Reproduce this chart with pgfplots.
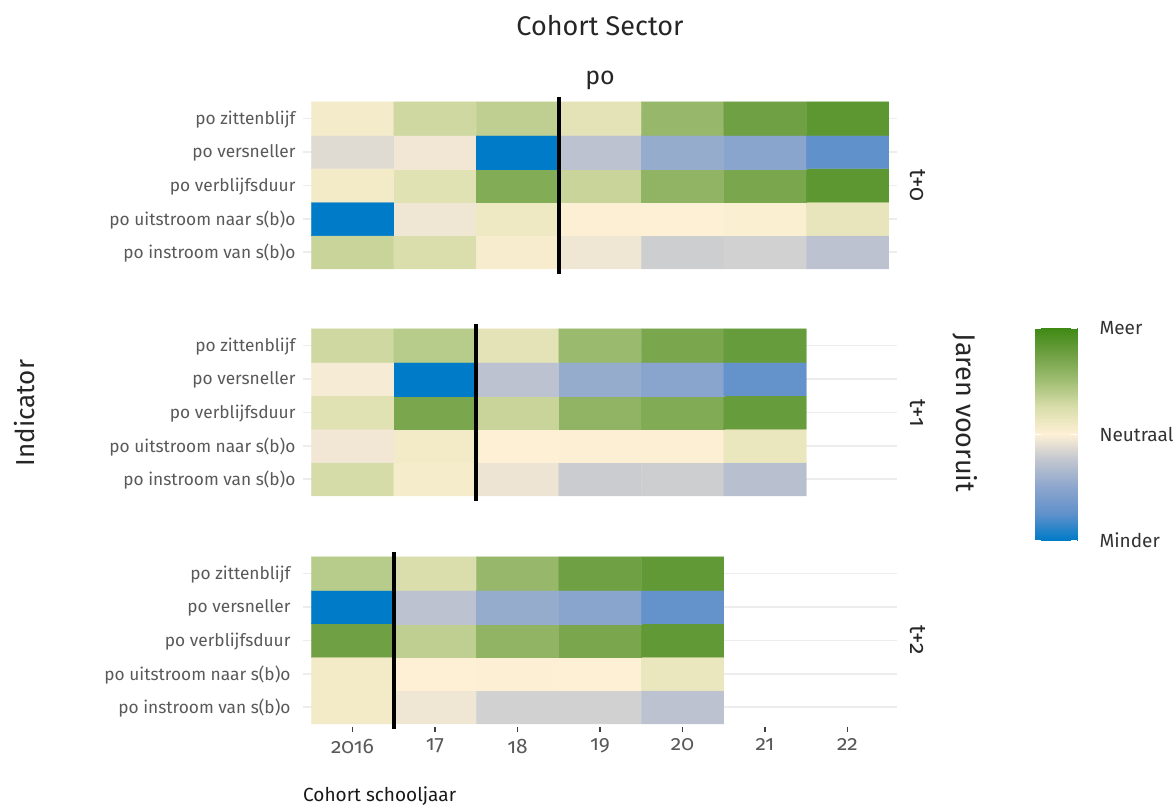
\documentclass[border=0pt]{standalone}
\usepackage{pgfplots}
\pgfplotsset{compat=1.18}
\usepackage{pgfplotstable}
\usepackage{fontspec}
\setmainfont[Numbers=OldStyle]{Fira Sans}

\pgfplotstableread{
x y c
2016 1 0.33
2017 1 0.25
2018 1 0.05
2019 1 -0.06
2020 1 -0.20
2021 1 -0.18
2022 1 -0.27
2016 2 -1
2017 2 -0.06
2018 2 0.11
2019 2 0.01
2020 2 0.00
2021 2 0.02
2022 2 0.15
2016 3 0.08
2017 3 0.20
2018 3 0.65
2019 3 0.33
2020 3 0.58
2021 3 0.70
2022 3 0.85
2016 4 -0.12
2017 4 -0.05
2018 4 -1
2019 4 -0.27
2020 4 -0.45
2021 4 -0.52
2022 4 -0.75
2016 5 0.07
2017 5 0.30
2018 5 0.37
2019 5 0.18
2020 5 0.55
2021 5 0.75
2022 5 0.85
}\panelA

\pgfplotstableread{
x y c
2016 1 0.27
2017 1 0.06
2018 1 -0.07
2019 1 -0.21
2020 1 -0.20
2021 1 -0.29
2016 2 -0.05
2017 2 0.08
2018 2 0.00
2019 2 0.01
2020 2 0.01
2021 2 0.14
2016 3 0.20
2017 3 0.70
2018 3 0.33
2019 3 0.58
2020 3 0.66
2021 3 0.80
2016 4 -0.03
2017 4 -1
2018 4 -0.27
2019 4 -0.45
2020 4 -0.52
2021 4 -0.73
2016 5 0.30
2017 5 0.40
2018 5 0.18
2019 5 0.53
2020 5 0.70
2021 5 0.80
}\panelB

\pgfplotstableread{
x y c
2016 1 0.08
2017 1 -0.06
2018 1 -0.18
2019 1 -0.18
2020 1 -0.27
2016 2 0.08
2017 2 0.00
2018 2 0.01
2019 2 0.005
2020 2 0.14
2016 3 0.75
2017 3 0.37
2018 3 0.58
2019 3 0.70
2020 3 0.83
2016 4 -1
2017 4 -0.27
2018 4 -0.45
2019 4 -0.52
2020 4 -0.73
2016 5 0.40
2017 5 0.25
2018 5 0.55
2019 5 0.75
2020 5 0.83
}\panelC

\pgfplotsset{
  colormap={rijk}{rgb255(0cm)=(0,123,199); rgb255(1cm)=(97,145,203); rgb255(2cm)=(140,166,205); rgb255(3cm)=(192,197,207); rgb255(4cm)=(254,240,213); rgb255(5cm)=(218,222,172); rgb255(6cm)=(160,190,115); rgb255(7cm)=(112,160,68); rgb255(8cm)=(62,138,20)},
  panel/.style={
    scale only axis, width=594pt, height=173.7pt,
    anchor=south west,
    xmin=2015.4, xmax=2022.6, ymin=0.4, ymax=5.6,
    axis lines*=left, axis line style={draw=none},
    ytick={1,...,5},
    yticklabels={po instroom van s(b)o, po uitstroom naar s(b)o, po verblijfsduur, po versneller, po zittenblijf},
    ymajorgrids, grid style={color=black!7, line width=1.6pt},
    y tick style={draw=none},
    yticklabel style={font=\fontsize{17.3}{20}\selectfont, text=black!65, xshift=-4pt, yshift=-1pt},
    xtick={2016,...,2022},
    colormap name=rijk, point meta min=-1, point meta max=1,
    clip=false,
  },
  nox/.style={xticklabels={}, x tick style={draw=none}},
}

\begin{document}
\begin{tikzpicture}[x=1pt,y=1pt]
\path[use as bounding box] (0,0) rectangle (1174,807);

% panel t+0
\begin{axis}[panel, nox, at={(303pt,534.7pt)}]
\addplot[matrix plot*, mesh/cols=7, point meta=explicit] table[x=x,y=y,meta=c] {\panelA};
\addplot[black, line width=4pt] coordinates {(2018.5,0.35) (2018.5,5.65)};
\end{axis}

% panel t+1
\begin{axis}[panel, nox, at={(303pt,307.7pt)}]
\addplot[matrix plot*, mesh/cols=6, point meta=explicit] table[x=x,y=y,meta=c] {\panelB};
\addplot[black, line width=4pt] coordinates {(2017.5,0.35) (2017.5,5.65)};
\end{axis}

% panel t+2
\begin{axis}[panel, at={(303pt,79.7pt)},
  xticklabels={2016,17,18,19,20,21,22},
  x tick style={draw=black!75, line width=1.5pt},
  tick align=outside, major tick length=5pt,
  xticklabel style={font=\fontsize{21}{24}\selectfont, text=black!65, yshift=-3pt},
  ]
\addplot[matrix plot*, mesh/cols=5, point meta=explicit] table[x=x,y=y,meta=c] {\panelC};
\addplot[black, line width=4pt] coordinates {(2016.5,0.35) (2016.5,5.65)};
\end{axis}

% colour bar
\begin{axis}[at={(1035pt,267pt)}, anchor=south west, scale only axis,
  width=42pt, height=212pt, view={0}{90},
  xmin=0, xmax=1, ymin=-1, ymax=1,
  axis line style={draw=none}, xtick=\empty,
  ytick={-1,0,1}, yticklabels={Minder,Neutraal,Meer},
  yticklabel pos=right, ytick pos=both,
  y tick style={draw=white, line width=1pt}, tick align=inside, major tick length=6pt,
  yticklabel style={font=\fontsize{19}{22}\selectfont, text=black!80, xshift=19pt, anchor=west},
  colormap name=rijk, point meta min=-1, point meta max=1, axis on top]
\addplot3[surf, shader=interp, point meta=y] coordinates {
(0,-1,0) (1,-1,0)

(0,1,0) (1,1,0)
};
\end{axis}

% texts
\node[font=\fontsize{27}{31}\selectfont, text=black!85] at (600,781) {Cohort Sector};
\node[font=\fontsize{25}{29}\selectfont, text=black!85] at (600,727) {po};
\node[font=\fontsize{23}{27}\selectfont, text=black!85, rotate=-90] at (918,621.5) {t+0};
\node[font=\fontsize{23}{27}\selectfont, text=black!85, rotate=-90] at (918,394) {t+1};
\node[font=\fontsize{23}{27}\selectfont, text=black!85, rotate=-90] at (918,167) {t+2};
\node[font=\fontsize{27}{31}\selectfont, text=black!85, rotate=-90] at (965,394) {Jaren vooruit};
\node[font=\fontsize{26}{30}\selectfont, text=black!85, rotate=90] at (25,394) {Indicator};
\node[font=\fontsize{19}{22}\selectfont, text=black!90, anchor=west, inner sep=0pt] at (303,11) {Cohort schooljaar};
\end{tikzpicture}
\end{document}
